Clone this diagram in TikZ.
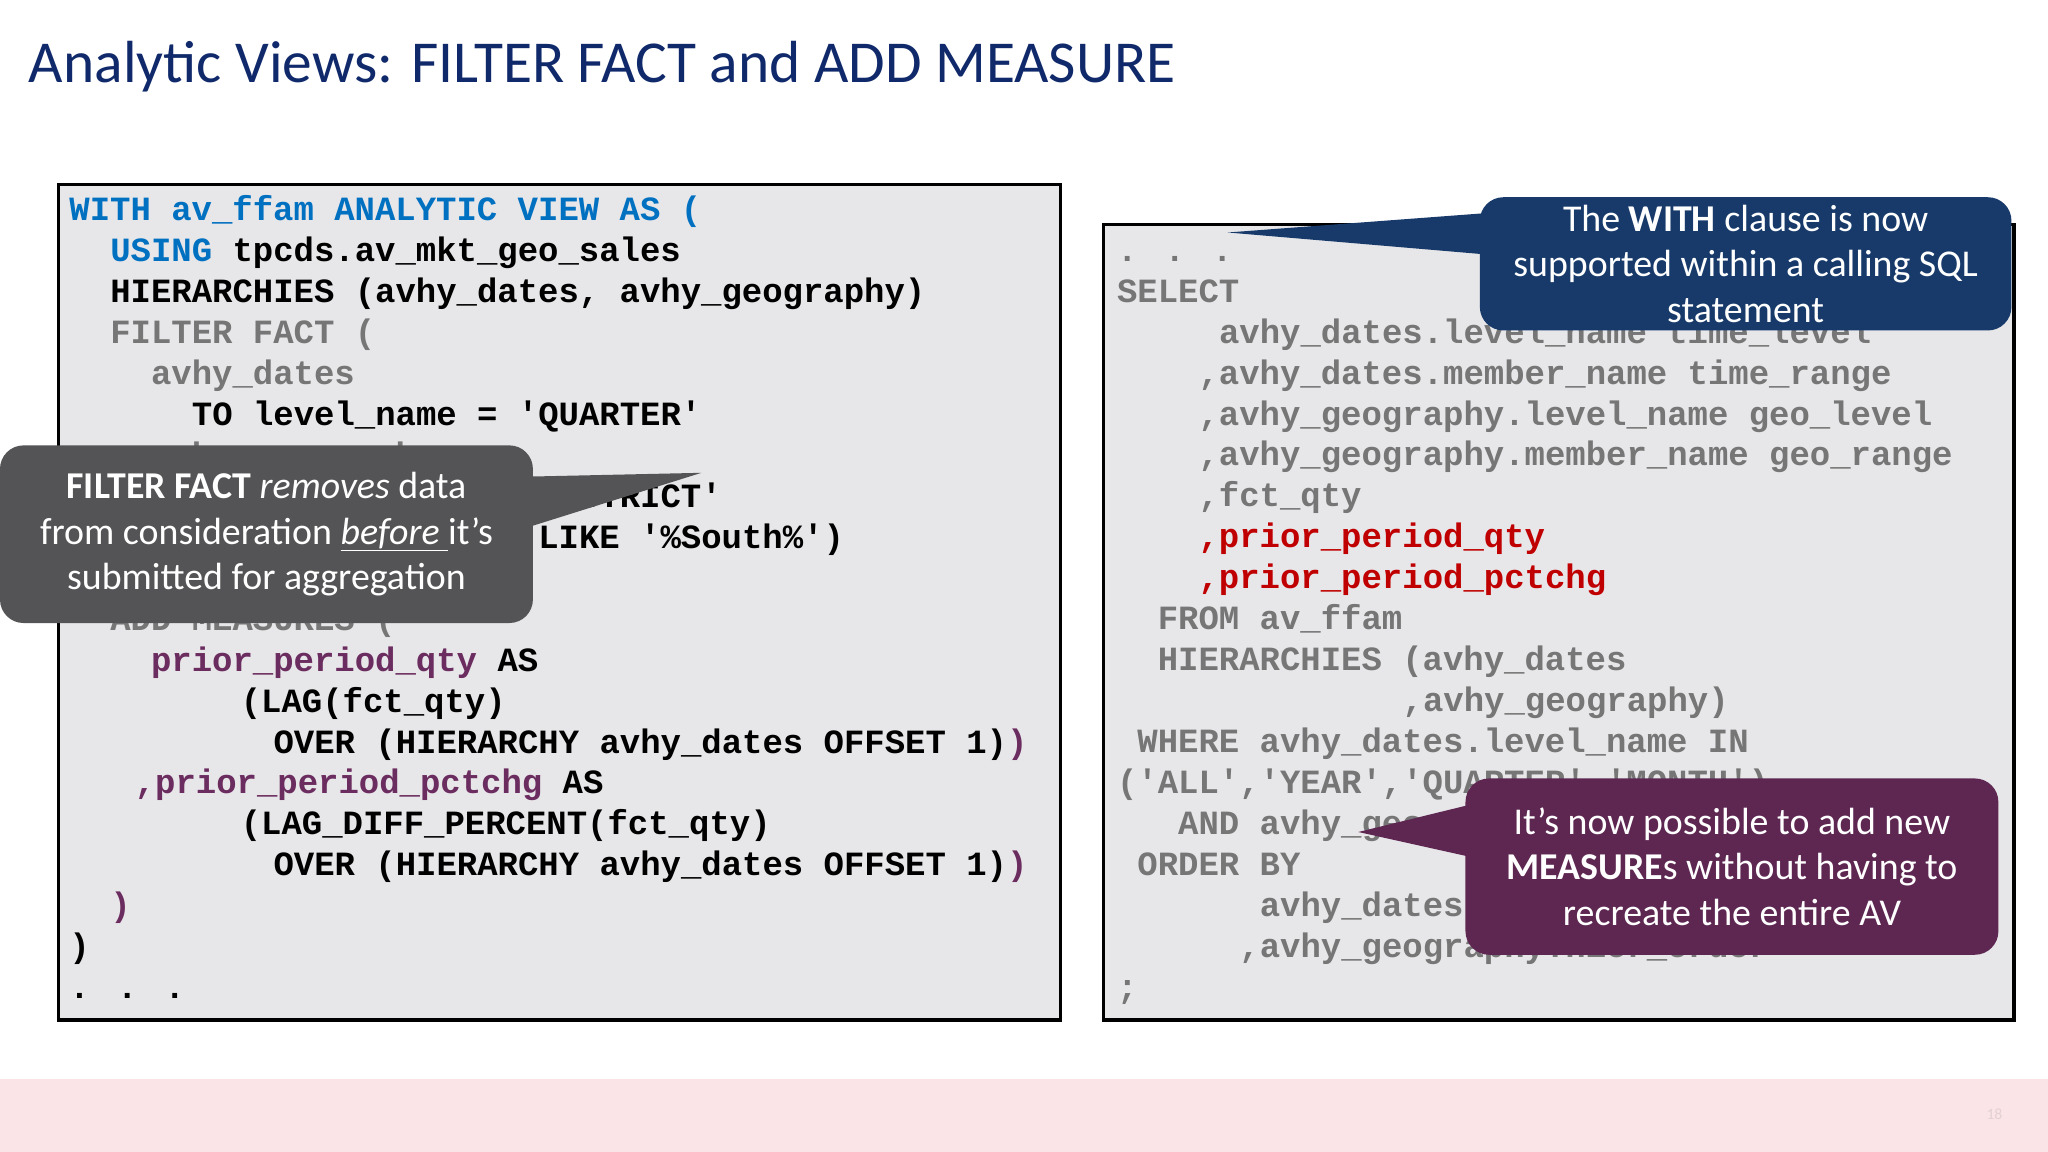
\documentclass[tikz,border=0pt]{standalone}
\usepackage{fontspec}
\setmainfont{Carlito}
\newfontfamily\code{Liberation Mono}
\definecolor{boxbg}{HTML}{E7E6E9}
\definecolor{kwblue}{HTML}{0070C0}
\definecolor{kwpurp}{HTML}{6B2C5F}
\definecolor{kwred}{HTML}{C00000}
\definecolor{cgray}{HTML}{767676}
\definecolor{navy}{HTML}{173A6A}
\definecolor{titlec}{HTML}{10296B}
\definecolor{calgray}{HTML}{545456}
\definecolor{calpurp}{HTML}{5E2752}
\definecolor{band}{HTML}{FBE4E7}
\tikzset{
  codel/.style={anchor=base west,inner sep=0pt,font=\code\bfseries\fontsize{26}{31}\selectfont},
  codebox/.style={draw=black,line width=2.5pt,fill=boxbg},
  callout/.style={rounded corners=18pt,text=white,align=center,font=\fontsize{29}{35}\selectfont}
}
\newcommand{\LL}[4]{\node[codel] (#1) at ({53+15.62*#2},{169+31.35*#3}) {#4};}
\newcommand{\RL}[4]{\node[codel,text=cgray] (#1) at ({855+15.62*#2},{200+31.35*#3}) {#4};}
\begin{document}
\begin{tikzpicture}[x=1pt,y=-1pt]
\useasboundingbox (0,0) rectangle (1568,882);
\fill[white] (0,0) rectangle (1568,882);
\fill[band] (0,826) rectangle (1568,882);
\node[text=band!80!gray,font=\fontsize{12}{14}\selectfont] (pg) at (1527,853) {18};
\node[anchor=west,inner sep=0pt,text=titlec,font=\fontsize{45.5}{52}\selectfont] (title) at (22,51) {Analytic Views: FILTER FACT and ADD MEASURE};
% left box
\draw[codebox] (45,141) rectangle (812,781);
\LL{a1}{0}{0}{\textcolor{kwblue}{WITH av\_ffam ANALYTIC VIEW AS (}}
\LL{a2}{2}{1}{\textcolor{kwblue}{USING} tpcds.av\_mkt\_geo\_sales}
\LL{a3}{2}{2}{HIERARCHIES (avhy\_dates, avhy\_geography)}
\LL{a4}{2}{3}{\textcolor{cgray}{FILTER FACT (}}
\LL{a5}{4}{4}{\textcolor{cgray}{avhy\_dates}}
\LL{a6}{6}{5}{TO level\_name = 'QUARTER'}
\LL{a7}{3}{6}{\textcolor{cgray}{,avhy\_geography}}
\LL{a8}{6}{7}{TO level\_name = 'DISTRICT'}
\LL{a9}{7}{8}{AND member\_name LIKE '\%South\%')}
\LL{a10}{2}{9}{\textcolor{cgray}{)}}
\LL{a11}{2}{10}{\textcolor{cgray}{ADD MEASURES (}}
\LL{a12}{4}{11}{\textcolor{kwpurp}{prior\_period\_qty} AS}
\LL{a13}{8.4}{12}{(LAG(fct\_qty)}
\LL{a14}{10}{13}{OVER (HIERARCHY avhy\_dates OFFSET 1)\textcolor{kwpurp}{)}}
\LL{a15}{3.2}{14}{\textcolor{kwpurp}{,prior\_period\_pctchg} AS}
\LL{a16}{8.4}{15}{(LAG\_DIFF\_PERCENT(fct\_qty)}
\LL{a17}{10}{16}{OVER (HIERARCHY avhy\_dates OFFSET 1)\textcolor{kwpurp}{)}}
\LL{a18}{2}{17}{\textcolor{kwpurp}{)}}
\LL{a19}{0}{18}{)}
\LL{a20}{0}{19}{. . .}
% right box
\draw[codebox] (845,172) rectangle (1542,781);
\RL{b1}{0}{0}{. . .}
\RL{b2}{0}{1}{SELECT}
\RL{b3}{5}{2}{avhy\_dates.level\_name time\_level}
\RL{b4}{4}{3}{,avhy\_dates.member\_name time\_range}
\RL{b5}{4}{4}{,avhy\_geography.level\_name geo\_level}
\RL{b6}{4}{5}{,avhy\_geography.member\_name geo\_range}
\RL{b7}{4}{6}{,fct\_qty}
\RL{b8}{4}{7}{\textcolor{kwred}{,prior\_period\_qty}}
\RL{b9}{4}{8}{\textcolor{kwred}{,prior\_period\_pctchg}}
\RL{b10}{2}{9}{FROM av\_ffam}
\RL{b11}{2}{10}{HIERARCHIES (avhy\_dates}
\RL{b12}{14}{11}{,avhy\_geography)}
\RL{b13}{1}{12}{WHERE avhy\_dates.level\_name IN}
\RL{b14}{0}{13}{('ALL','YEAR','QUARTER','MONTH')}
\RL{b15}{3}{14}{AND avhy\_geography.level\_name = 'REGION'}
\RL{b16}{1}{15}{ORDER BY}
\RL{b17}{7}{16}{avhy\_dates.hier\_order}
\RL{b18}{6}{17}{,avhy\_geography.hier\_order}
\RL{b19}{0}{18}{;}
% callouts
\fill[calgray] (400,365) -- (537,362) -- (400,405) -- cycle;
\node[callout,fill=calgray,minimum width=408pt,minimum height=136pt] (c1) at (204,409)
  {\textbf{FILTER FACT} \textit{removes} data\\from consideration \underline{\textit{before} }it’s\\submitted for aggregation};
\fill[navy] (1140,163) -- (940,178) -- (1140,195) -- cycle;
\node[callout,fill=navy,minimum width=407pt,minimum height=102pt] (c2) at (1336.5,202)
  {The \textbf{WITH} clause is now\\supported within a calling SQL\\statement};
\fill[calpurp] (1130,615) -- (1040,637) -- (1130,657) -- cycle;
\node[callout,fill=calpurp,minimum width=408pt,minimum height=135pt] (c3) at (1326,663.5)
  {It’s now possible to add new\\\textbf{MEASURE}s without having to\\recreate the entire AV};
\end{tikzpicture}
\end{document}
